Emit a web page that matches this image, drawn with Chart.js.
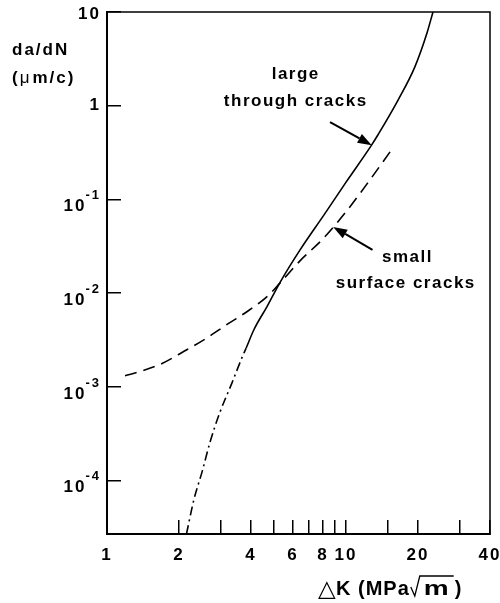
<!DOCTYPE html>
<html>
<head>
<meta charset="utf-8">
<script src="https://cdn.jsdelivr.net/npm/chart.js@4.4.1/dist/chart.umd.min.js"></script>
<style>
  html, body { margin: 0; padding: 0; background: #fff; }
  #wrap { width: 500px; height: 603px; }
</style>
</head>
<body>
<div id="wrap"><canvas id="crackChart" width="500" height="603"></canvas></div>
<script>
// ΔK in MPa√m, growth rate da/dN in µm/cycle
const surfaceK    = [1.19, 1.4, 1.7, 2.1, 2.6, 3.2, 3.9, 4.7, 5.3, 6.4, 8.0, 10, 12.5, 15.3];
const surfaceRate = [1.32e-3, 1.48e-3, 1.78e-3, 2.4e-3, 3.3e-3, 4.7e-3, 6.5e-3, 9.3e-3, 1.29e-2, 2.2e-2, 3.8e-2, 7.4e-2, 0.158, 0.324];

// long cracks below threshold region (extrapolated part, dash-dot)
const throughLowK    = [2.15, 2.31, 2.5, 2.7, 2.97, 3.33, 3.71, 3.82];
const throughLowRate = [2.7e-5, 6.3e-5, 1.25e-4, 2.6e-4, 5.4e-4, 1.1e-3, 2.2e-3, 2.6e-3];

// long cracks, measured part (solid)
const throughK    = [3.82, 4.12, 4.67, 5.29, 6.42, 8.1, 10, 12.8, 13.6, 16.5, 19.4, 21.8, 23.1];
const throughRate = [2.6e-3, 4.1e-3, 7.2e-3, 1.3e-2, 2.9e-2, 6.9e-2, 0.153, 0.382, 0.49, 1.15, 2.6, 5.97, 10];

const xTickLabels = [1, 2, 4, 6, 8, 10, 20, 40];
const yTickValues = [1e-4, 1e-3, 1e-2, 1e-1, 1, 10];

// text notes and pointer arrows, placed in data coordinates
const noteTexts = [
  { text: 'large', k: 6.1, rate: 1.93 },
  { text: 'through cracks', k: 6.1, rate: 1.0 },
  { text: 'small', k: 17.9, rate: 0.0216 },
  { text: 'surface cracks', k: 17.6, rate: 0.0114 }
];
const noteArrows = [
  { from: [8.57, 0.67], to: [12.8, 0.38] },
  { from: [12.9, 0.029], to: [8.83, 0.051] }
];

const FONT = '"Liberation Sans", Arial, sans-serif';

function toPoints(ks, rates) {
  return ks.map((k, i) => ({ x: k, y: rates[i] }));
}

function drawArrow(ctx, x1, y1, x2, y2) {
  const ang = Math.atan2(y2 - y1, x2 - x1);
  const head = 14, half = 5;
  const bx = x2 - head * Math.cos(ang);
  const by = y2 - head * Math.sin(ang);
  ctx.beginPath();
  ctx.moveTo(x1, y1);
  ctx.lineTo(bx, by);
  ctx.lineWidth = 2;
  ctx.stroke();
  ctx.beginPath();
  ctx.moveTo(x2, y2);
  ctx.lineTo(bx + half * Math.sin(ang), by - half * Math.cos(ang));
  ctx.lineTo(bx - half * Math.sin(ang), by + half * Math.cos(ang));
  ctx.closePath();
  ctx.fill();
}

// letter spacing for the tick labels Chart.js draws
const spacingPlugin = {
  id: 'spacing',
  beforeDraw(chart) {
    chart.ctx.letterSpacing = '2px';
  }
};

const extrasPlugin = {
  id: 'extras',
  afterDraw(chart) {
    const ctx = chart.ctx;
    const area = chart.chartArea;
    const xs = chart.scales.x;
    const ys = chart.scales.y;
    ctx.save();
    ctx.strokeStyle = '#000';
    ctx.fillStyle = '#000';

    // frame (top and right sides)
    ctx.lineWidth = 1.5;
    ctx.strokeRect(area.left, area.top, area.right - area.left, area.bottom - area.top);

    // y tick labels with superscript exponents
    ctx.letterSpacing = '2px';
    ctx.textBaseline = 'middle';
    ctx.textAlign = 'right';
    yTickValues.forEach(v => {
      const py = ys.getPixelForValue(v);
      const exp = Math.round(Math.log10(v));
      const rx = area.left - 6;
      if (exp === 1 || exp === 0) {
        ctx.font = 'bold 17px ' + FONT;
        ctx.fillText(exp === 1 ? '10' : '1', rx, py + (exp === 1 ? 2 : 0));
      } else {
        ctx.font = 'bold 13px ' + FONT;
        const sup = String(exp);
        const sw = ctx.measureText(sup).width;
        ctx.fillText(sup, rx, py - 4);
        ctx.font = 'bold 17px ' + FONT;
        ctx.fillText('10', rx - sw + 1, py + 7);
      }
    });

    // y axis title
    ctx.textAlign = 'left';
    ctx.textBaseline = 'alphabetic';
    ctx.font = 'bold 17px ' + FONT;
    ctx.fillText('da/dN', 12, 55);
    let tx = 12;
    ctx.fillText('(', tx, 83);
    tx += ctx.measureText('(').width;
    ctx.font = '17px ' + FONT;
    ctx.fillText('μ', tx, 83);
    tx += ctx.measureText('μ').width + 1;
    ctx.font = 'bold 17px ' + FONT;
    ctx.fillText('m/c)', tx, 83);

    // x axis title: ΔK (MPa√m)
    const base = 595;
    let x = area.right - 172;
    ctx.letterSpacing = '0px';
    ctx.font = '23px "DejaVu Sans", sans-serif';
    ctx.fillText('△', x, base + 1);
    x += 18;
    ctx.letterSpacing = '1px';
    ctx.font = 'bold 20px ' + FONT;
    ctx.fillText('K (MPa', x, base);
    x += ctx.measureText('K (MPa').width;
    ctx.letterSpacing = '0px';
    const mW = ctx.measureText('m').width * 1.4;
    ctx.lineWidth = 1.3;
    ctx.beginPath();
    ctx.moveTo(x + 1, base - 8);
    ctx.lineTo(x + 5, base + 1);
    ctx.lineTo(x + 10, base - 19);
    ctx.lineTo(x + 14 + mW + 5, base - 19);
    ctx.stroke();
    ctx.save();
    ctx.translate(x + 14, base);
    ctx.scale(1.4, 1);
    ctx.fillText('m', 0, 0);
    ctx.restore();
    ctx.fillText(')', x + 14 + mW + 6, base);

    // notes
    ctx.letterSpacing = '1.5px';
    ctx.textAlign = 'center';
    ctx.font = 'bold 17px ' + FONT;
    noteTexts.forEach(n => {
      ctx.fillText(n.text, xs.getPixelForValue(n.k) + 1, ys.getPixelForValue(n.rate));
    });
    noteArrows.forEach(a => {
      drawArrow(ctx,
        xs.getPixelForValue(a.from[0]), ys.getPixelForValue(a.from[1]),
        xs.getPixelForValue(a.to[0]), ys.getPixelForValue(a.to[1]));
    });
    ctx.restore();
  }
};

const lineStyle = {
  borderColor: '#000',
  borderWidth: 1.6,
  pointRadius: 0,
  fill: false,
  cubicInterpolationMode: 'monotone'
};

new Chart(document.getElementById('crackChart'), {
  type: 'line',
  data: {
    datasets: [
      Object.assign({ label: 'small surface cracks', data: toPoints(surfaceK, surfaceRate), borderDash: [12, 7] }, lineStyle),
      Object.assign({ label: 'large through cracks (extrapolated)', data: toPoints(throughLowK, throughLowRate), borderDash: [9, 4, 2, 4] }, lineStyle),
      Object.assign({ label: 'large through cracks', data: toPoints(throughK, throughRate) }, lineStyle)
    ]
  },
  options: {
    responsive: false,
    animation: false,
    devicePixelRatio: 1,
    layout: { padding: { top: 12, right: 10, left: 0, bottom: 0 } },
    plugins: {
      legend: { display: false },
      tooltip: { enabled: false }
    },
    scales: {
      x: {
        type: 'logarithmic',
        min: 1,
        max: 40,
        afterFit(scale) {
          scale.height = 69;
          scale.paddingLeft = 0;
          scale.paddingRight = 0;
        },
        border: { display: true, color: '#000', width: 2 },
        grid: { drawOnChartArea: false, drawTicks: true, tickLength: -14, color: '#000', lineWidth: 1.5 },
        ticks: {
          autoSkip: false,
          maxRotation: 0,
          padding: 25,
          color: '#000',
          font: { family: FONT, size: 17, weight: 'bold' },
          callback(value) {
            const r = Math.round(value);
            return xTickLabels.includes(r) && Math.abs(value - r) < 1e-6 ? String(r) : '';
          }
        }
      },
      y: {
        type: 'logarithmic',
        min: 2.7e-5,
        max: 10,
        afterFit(scale) {
          scale.width = 107;
          scale.paddingTop = 0;
          scale.paddingBottom = 0;
        },
        afterBuildTicks(scale) {
          scale.ticks = yTickValues.map(v => ({ value: v }));
        },
        border: { display: true, color: '#000', width: 2 },
        grid: { drawOnChartArea: false, drawTicks: true, tickLength: -14, color: '#000', lineWidth: 1.5 },
        ticks: { display: false }
      }
    }
  },
  plugins: [spacingPlugin, extrasPlugin]
});
</script>
</body>
</html>
